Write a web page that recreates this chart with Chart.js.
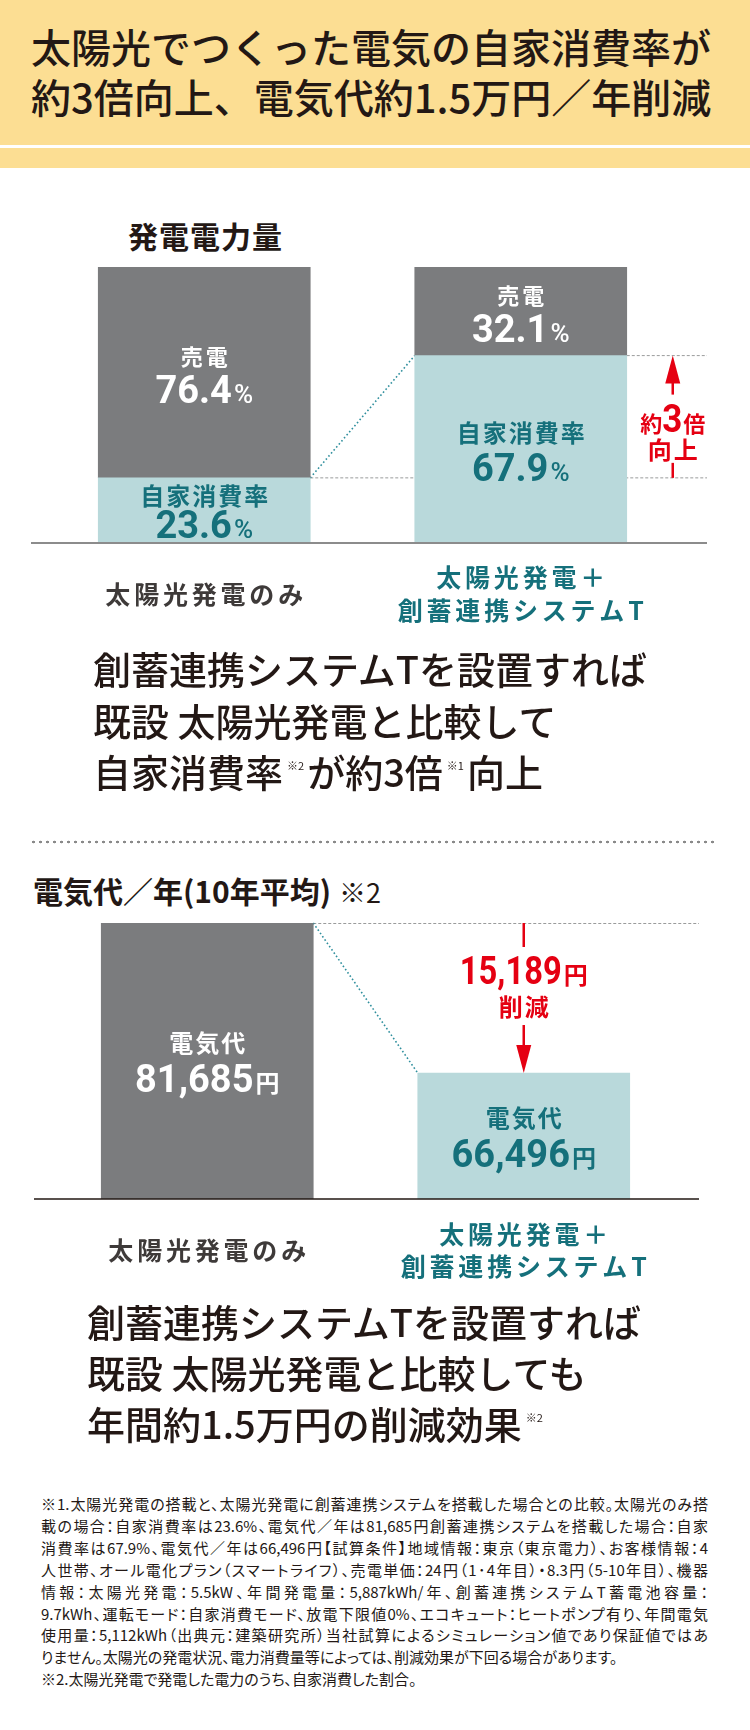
<!DOCTYPE html>
<html lang="ja">
<head>
<meta charset="utf-8">
<script src="https://cdn.jsdelivr.net/npm/chart.js"></script>
<style>
html,body{margin:0;padding:0;background:#fff;}
body{width:750px;height:1730px;position:relative;overflow:hidden;font-family:"Noto Sans CJK JP","Noto Sans CJK SC",sans-serif;color:#231815;}
.abs{position:absolute;white-space:nowrap;}
.band{position:absolute;left:0;width:750px;background:#fcde93;}
.title{left:31px;top:21px;font-size:40px;line-height:50px;font-weight:500;}
.ctitle{font-size:30px;line-height:40px;font-weight:700;}
.ctitle .note{font-weight:400;font-size:27px;margin-left:8px;}
.big{font-size:38px;line-height:51.5px;font-weight:500;}
.sup{font-size:11px;font-weight:400;position:relative;top:-17px;margin:0 3px 0 4px;line-height:0;}
.sep{position:absolute;left:30px;top:840px;width:684px;height:4px;
 background-image:radial-gradient(circle,#8a8a8a 1.2px,transparent 1.6px);background-size:7px 4px;background-repeat:repeat-x;}
.notes{position:absolute;left:41px;top:1493px;width:667px;font-size:15px;line-height:21.9px;font-feature-settings:"palt";}
.notes div{text-align:justify;text-align-last:justify;}
.notes div.l{text-align:left;text-align-last:left;}
canvas{position:absolute;left:0;}
</style>
</head>
<body>
<div class="band" style="top:0;height:145px;"></div>
<div class="band" style="top:148px;height:20px;"></div>
<div class="abs title">太陽光でつくった電気の自家消費率が<br>約3倍向上、電気代約1.5万円／年削減</div>

<div class="abs ctitle" style="left:128px;top:215px;letter-spacing:1px;">発電電力量</div>
<canvas id="c1" width="750" height="460" style="top:190px"></canvas>

<div class="abs big" style="left:93px;top:642px;">創蓄連携システムTを設置すれば<br>既設 太陽光発電と比較して<br>自家消費率<span class="sup">※2</span>が約3倍<span class="sup">※1</span>向上</div>

<div class="sep"></div>

<div class="abs ctitle" style="left:33px;top:870px;">電気代／年(10年平均)<span class="note">※2</span></div>
<canvas id="c2" width="750" height="400" style="top:900px"></canvas>

<div class="abs big" style="left:87px;top:1295px;line-height:51px;">創蓄連携システムTを設置すれば<br>既設 太陽光発電と比較しても<br>年間約1.5万円の削減効果<span class="sup">※2</span></div>

<div class="notes">
<div>※1.太陽光発電の搭載と、太陽光発電に創蓄連携システムを搭載した場合との比較。太陽光のみ搭</div>
<div>載の場合：自家消費率は23.6%、電気代／年は81,685円創蓄連携システムを搭載した場合：自家</div>
<div>消費率は67.9%、電気代／年は66,496円【試算条件】地域情報：東京（東京電力）、お客様情報：4</div>
<div>人世帯、オール電化プラン（スマートライフ）、売電単価：24円（1･4年目）・8.3円（5-10年目）、機器</div>
<div>情報：太陽光発電：5.5kW、年間発電量：5,887kWh/年、創蓄連携システムT蓄電池容量：</div>
<div>9.7kWh、運転モード：自家消費モード、放電下限値0%、エコキュート：ヒートポンプ有り、年間電気</div>
<div>使用量：5,112kWh（出典元：建築研究所）当社試算によるシミュレーション値であり保証値ではあ</div>
<div class="l">りません。太陽光の発電状況、電力消費量等によっては、削減効果が下回る場合があります。</div>
<div class="l">※2.太陽光発電で発電した電力のうち、自家消費した割合。</div>
</div>

<script>
// ---------- data ----------
const categories = [["太陽光発電のみ"], ["太陽光発電＋", "創蓄連携システムT"]];
const powerSeries = ["自家消費率", "売電"];
const selfConsumption = [23.6, 67.9];   // %
const soldPower = [76.4, 32.1];         // %
const costSeries = "電気代";
const annualCost = [81685, 66496];      // 円/年
const powerRange = [0, 100];
const costRange = [53740, 81685];
const powerBadge = ["約", "3", "倍", "向上"];
const costBadgeWord = "削減";

// ---------- style ----------
const GREY = "#7b7c7e", TEAL = "#b9d9db", TEAL_TXT = "#15707b", RED = "#e50012", DARK = "#231815", CAT_GREY = "#3e3a39";
const CJK = '"Noto Sans CJK JP","Noto Sans CJK SC",sans-serif';
const NUM = 'Roboto,"Noto Sans",sans-serif';

function pw(ctx, p) {
  ctx.font = p.font; ctx.letterSpacing = (p.ls || 0) + "px";
  return (ctx.measureText(p.s).width - (p.ls || 0)) * (p.sx || 1);
}
function run(ctx, parts, cx, by) {
  let tot = 0;
  const ws = parts.map(p => { const v = pw(ctx, p); tot += v + (p.gap || 0); return v; });
  let x = cx - tot / 2;
  parts.forEach((p, i) => {
    ctx.save();
    ctx.font = p.font; ctx.letterSpacing = (p.ls || 0) + "px";
    ctx.fillStyle = p.color; ctx.textAlign = "left"; ctx.textBaseline = "alphabetic";
    ctx.translate(x, by); ctx.scale(p.sx || 1, 1); ctx.fillText(p.s, 0, 0);
    ctx.restore();
    x += ws[i] + (p.gap || 0);
  });
}
function cjkLabel(ctx, s, cx, cy, size, color, ls) {
  run(ctx, [{ s, font: "700 " + size + "px " + CJK, color, ls }], cx, cy + 0.38 * size);
}
function valueLabel(ctx, num, unit, unitFont, cx, cy, color, sx) {
  run(ctx, [{ s: num, font: "700 38px " + NUM, color, sx: sx || 1, gap: 2 },
            { s: unit, font: unitFont, color }], cx, cy + 13.5);
}
function lineSeg(ctx, x1, y1, x2, y2, color, width, dash) {
  ctx.save(); ctx.beginPath(); ctx.strokeStyle = color; ctx.lineWidth = width; ctx.setLineDash(dash);
  ctx.moveTo(x1, y1); ctx.lineTo(x2, y2); ctx.stroke(); ctx.restore();
}
function categoryLabels(chart, meta, base, sp) {
  const ctx = chart.ctx;
  categories.forEach((lines, j) => {
    const color = j === 0 ? CAT_GREY : TEAL_TXT;
    lines.forEach((s, k) => {
      const cy = base + 51 + (k - (lines.length - 1) / 2) * sp;
      cjkLabel(ctx, s, meta[j].x, cy, 25, color, 3.8);
    });
  });
}
function upHead(ctx, x, y, h, w) {
  ctx.beginPath(); ctx.moveTo(x, y); ctx.lineTo(x - w / 2, y + h); ctx.lineTo(x + w / 2, y + h); ctx.closePath(); ctx.fill();
}
function downHead(ctx, x, y, h, w) {
  ctx.beginPath(); ctx.moveTo(x, y); ctx.lineTo(x - w / 2, y - h); ctx.lineTo(x + w / 2, y - h); ctx.closePath(); ctx.fill();
}

// ---------- chart 1 ----------
const deco1 = {
  id: "deco1",
  beforeDatasetsDraw(chart) {
    const ctx = chart.ctx, m = chart.getDatasetMeta(0).data, ca = chart.chartArea;
    const r = ca.right + 28;
    lineSeg(ctx, m[0].x + m[0].width / 2, m[0].y, r, m[0].y, "#9a9b9b", 1, [3, 2]);
    lineSeg(ctx, m[1].x + m[1].width / 2, m[1].y, r, m[1].y, "#9a9b9b", 1, [3, 2]);
    lineSeg(ctx, m[0].x + m[0].width / 2, m[0].y, m[1].x - m[1].width / 2, m[1].y, "#2f8f9d", 1.6, [1.6, 2.4]);
  },
  afterDatasetsDraw(chart) {
    const ctx = chart.ctx, ca = chart.chartArea;
    const mT = chart.getDatasetMeta(0).data, mG = chart.getDatasetMeta(1).data;
    const y0 = chart.scales.y.getPixelForValue(0);
    [0, 1].forEach(j => {
      // sold (grey)
      let g = mG[j], cy = (g.y + g.base) / 2;
      cjkLabel(ctx, powerSeries[1], g.x, cy - 16, 22, "#fff", 3);
      valueLabel(ctx, soldPower[j].toFixed(1), "%", "500 26px " + NUM, g.x, cy + 17, "#fff");
      // self consumption (teal)
      let t = mT[j], h = t.base - t.y; cy = (t.y + t.base) / 2;
      const a = h < 100 ? 14.5 : 16, b = h < 100 ? 14.5 : 18;
      cjkLabel(ctx, powerSeries[0], t.x, cy - a, 24, TEAL_TXT, 2);
      valueLabel(ctx, selfConsumption[j].toFixed(1), "%", "500 26px " + NUM, t.x, cy + b, TEAL_TXT);
    });
    // baseline
    ctx.fillStyle = "#8c8c8c";
    ctx.fillRect(ca.left - 15, y0 - 1, (ca.right + 28) - (ca.left - 15), 2);
    // arrow
    const ax = mT[1].x + mT[1].width / 2 + 46, yTop = mT[1].y, yBot = mT[0].y;
    ctx.fillStyle = RED;
    upHead(ctx, ax, yTop, 28, 15);
    ctx.fillRect(ax - 1.25, yTop + 27, 2.5, 12);
    ctx.fillRect(ax - 1.25, yBot - 15, 2.5, 15);
    run(ctx, [{ s: powerBadge[0], font: "700 22px " + CJK, color: RED },
              { s: powerBadge[1], font: "700 38px " + NUM, color: RED, sx: 0.92, gap: 1 },
              { s: powerBadge[2], font: "700 22px " + CJK, color: RED }], ax, yTop + 63 + 13.5);
    cjkLabel(ctx, powerBadge[3], ax, yTop + 94, 24, RED, 2);
    categoryLabels(chart, mT, y0, 33);
  }
};

new Chart(document.getElementById("c1"), {
  type: "bar",
  data: {
    labels: categories,
    datasets: [
      { label: powerSeries[0], data: selfConsumption, backgroundColor: TEAL, borderWidth: 0, barThickness: 212 },
      { label: powerSeries[1], data: soldPower, backgroundColor: GREY, borderWidth: 0, barThickness: 212 }
    ]
  },
  options: {
    responsive: false, animation: false, devicePixelRatio: 1,
    layout: { padding: { top: 77, bottom: 107, left: 46, right: 71 } },
    plugins: { legend: { display: false }, tooltip: { enabled: false } },
    scales: {
      x: { display: false, stacked: true },
      y: { display: false, stacked: true, min: powerRange[0], max: powerRange[1] }
    }
  },
  plugins: [deco1]
});

// ---------- chart 2 ----------
const deco2 = {
  id: "deco2",
  beforeDatasetsDraw(chart) {
    const ctx = chart.ctx, m = chart.getDatasetMeta(0).data, ca = chart.chartArea;
    lineSeg(ctx, m[0].x + m[0].width / 2, m[0].y + 0.5, ca.right + 17, m[0].y + 0.5, "#9a9b9b", 1, [3, 2]);
    lineSeg(ctx, m[0].x + m[0].width / 2, m[0].y, m[1].x - m[1].width / 2, m[1].y, "#2f8f9d", 1.6, [1.6, 2.4]);
  },
  afterDatasetsDraw(chart) {
    const ctx = chart.ctx, ca = chart.chartArea, m = chart.getDatasetMeta(0).data;
    const y0 = chart.scales.y.bottom;
    [0, 1].forEach(j => {
      const e = m[j], bottom = Math.min(e.base, y0), cy = (e.y + bottom) / 2, col = j === 0 ? "#fff" : TEAL_TXT;
      cjkLabel(ctx, costSeries, e.x, cy - 18, 24, col, 2);
      valueLabel(ctx, annualCost[j].toLocaleString("en-US"), "円", "700 24px " + CJK, e.x, cy + 17, col);
    });
    ctx.fillStyle = DARK;
    ctx.fillRect(ca.left - 15, y0 - 0.75, (ca.right + 17) - (ca.left - 15), 1.5);
    // reduction arrow
    const ax = m[1].x, yTop = m[0].y, yBot = m[1].y;
    ctx.fillStyle = RED;
    ctx.fillRect(ax - 1.25, yTop, 2.5, 24);
    ctx.fillRect(ax - 1.25, yBot - 48, 2.5, 21);
    downHead(ctx, ax, yBot, 28, 15);
    const diff = annualCost[0] - annualCost[1];
    valueLabel(ctx, diff.toLocaleString("en-US"), "円", "700 24px " + CJK, ax, yTop + 47, RED, 0.86);
    cjkLabel(ctx, costBadgeWord, ax, yTop + 84, 24, RED, 2);
    categoryLabels(chart, m, y0, 32);
  }
};

new Chart(document.getElementById("c2"), {
  type: "bar",
  data: {
    labels: categories,
    datasets: [
      { label: costSeries, data: annualCost, backgroundColor: [GREY, TEAL], borderWidth: 0, barThickness: 212 }
    ]
  },
  options: {
    responsive: false, animation: false, devicePixelRatio: 1,
    layout: { padding: { top: 23, bottom: 101, left: 49, right: 68 } },
    plugins: { legend: { display: false }, tooltip: { enabled: false } },
    scales: {
      x: { display: false },
      y: { display: false, min: costRange[0], max: costRange[1] }
    }
  },
  plugins: [deco2]
});
</script>
</body>
</html>
